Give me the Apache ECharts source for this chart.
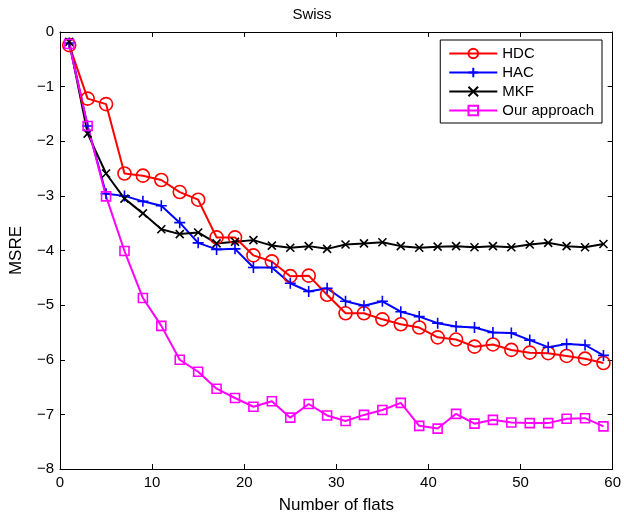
<!DOCTYPE html>
<html><head><meta charset="utf-8">
<script src="https://cdn.jsdelivr.net/npm/echarts@6/dist/echarts.min.js"></script>
<style>html,body{margin:0;padding:0;background:#fff}#c{width:624px;height:519px}</style>
</head><body><div id="c"></div>
<script>
const xs = [1,3,5,7,9,11,13,15,17,19,21,23,25,27,29,31,33,35,37,39,41,43,45,47,49,51,53,55,57,59];
const hdc = [-0.24,-1.22,-1.32,-2.59,-2.63,-2.71,-2.93,-3.07,-3.76,-3.76,-4.09,-4.2,-4.47,-4.46,-4.81,-5.15,-5.15,-5.26,-5.35,-5.41,-5.59,-5.63,-5.76,-5.72,-5.82,-5.87,-5.88,-5.93,-5.98,-6.06];
const hac = [-0.2,-1.72,-2.96,-3.0,-3.1,-3.18,-3.49,-3.86,-3.98,-3.97,-4.31,-4.31,-4.6,-4.75,-4.69,-4.93,-5.01,-4.93,-5.12,-5.21,-5.33,-5.39,-5.41,-5.5,-5.51,-5.64,-5.77,-5.71,-5.73,-5.92];
const mkf = [-0.18,-1.86,-2.59,-3.05,-3.32,-3.61,-3.7,-3.67,-3.87,-3.84,-3.81,-3.91,-3.95,-3.92,-3.97,-3.89,-3.87,-3.85,-3.92,-3.95,-3.93,-3.92,-3.94,-3.92,-3.94,-3.89,-3.86,-3.92,-3.94,-3.88];
const ours = [-0.22,-1.72,-3.01,-4.01,-4.87,-5.38,-6.0,-6.22,-6.53,-6.7,-6.86,-6.76,-7.06,-6.81,-7.02,-7.12,-7.01,-6.92,-6.79,-7.21,-7.26,-6.99,-7.17,-7.1,-7.15,-7.16,-7.16,-7.08,-7.07,-7.22];
const names = ['HDC','HAC','MKF','Our approach'];
const colors = ['#ff0000','#0000ff','#000000','#ff00ff'];

const chart = echarts.init(document.getElementById('c'));
const font = 'Liberation Sans, Arial, sans-serif';
const fmt = v => String(v).replace('-', '\u2212');
function pairs(arr){ return xs.map((x,i)=>[x, arr[i]]); }
const plusPath = 'path://M0,5L10,5M5,0L5,10';
const crossPath = 'path://M0,0L10,10M10,0L0,10';
const seriesDefs = [
  {data: hdc, symbol: 'circle', size: 13},
  {data: hac, symbol: plusPath, size: 11},
  {data: mkf, symbol: crossPath, size: 8},
  {data: ours, symbol: 'rect', size: 9}
];
const axisCommon = {
  axisLine: {onZero: false, lineStyle: {color: '#000', width: 1}},
  axisTick: {inside: true, length: 5, lineStyle: {color: '#000'}},
  splitLine: {show: false}
};
chart.setOption({
  backgroundColor: '#fff',
  animation: false,
  title: {text: 'Swiss', left: 'center', top: 2, textStyle: {fontFamily: font, fontSize: 15, fontWeight: 'normal', color: '#000'}},
  grid: {left: 58, right: 9, top: 32, bottom: 49},
  legend: {
    orient: 'vertical', right: 22, top: 40,
    data: names,
    backgroundColor: '#fff', borderColor: '#000', borderWidth: 1,
    padding: [6, 8, 5, 8], itemGap: 4, itemWidth: 48, itemHeight: 12,
    textStyle: {fontFamily: font, fontSize: 15, color: '#000'}
  },
  xAxis: [
    Object.assign({type: 'value', min: 0, max: 60, interval: 10, position: 'bottom',
      name: 'Number of flats', nameLocation: 'middle', nameGap: 28,
      nameTextStyle: {fontFamily: font, fontSize: 17, color: '#000'},
      axisLabel: {fontFamily: font, fontSize: 15, color: '#000', margin: 6}}, axisCommon),
    Object.assign({type: 'value', min: 0, max: 60, interval: 10, position: 'top',
      axisLabel: {show: false}}, axisCommon)
  ],
  yAxis: [
    Object.assign({type: 'value', min: -8, max: 0, interval: 1, position: 'left',
      name: 'MSRE', nameLocation: 'middle', nameGap: 35, nameRotate: 90,
      nameTextStyle: {fontFamily: font, fontSize: 17, color: '#000'},
      axisLabel: {fontFamily: font, fontSize: 15, color: '#000', margin: 6, formatter: fmt}}, axisCommon),
    Object.assign({type: 'value', min: -8, max: 0, interval: 1, position: 'right',
      axisLabel: {show: false}}, axisCommon)
  ],
  series: seriesDefs.map((d, i) => ({
    name: names[i], type: 'line', xAxisIndex: 0, yAxisIndex: 0,
    data: pairs(d.data), symbol: d.symbol, symbolSize: d.size, showAllSymbol: true,
    lineStyle: {color: colors[i], width: 2},
    itemStyle: {color: 'rgba(0,0,0,0)', borderColor: colors[i], borderWidth: 1.6},
    emphasis: {disabled: true}
  }))
});
</script></body></html>
